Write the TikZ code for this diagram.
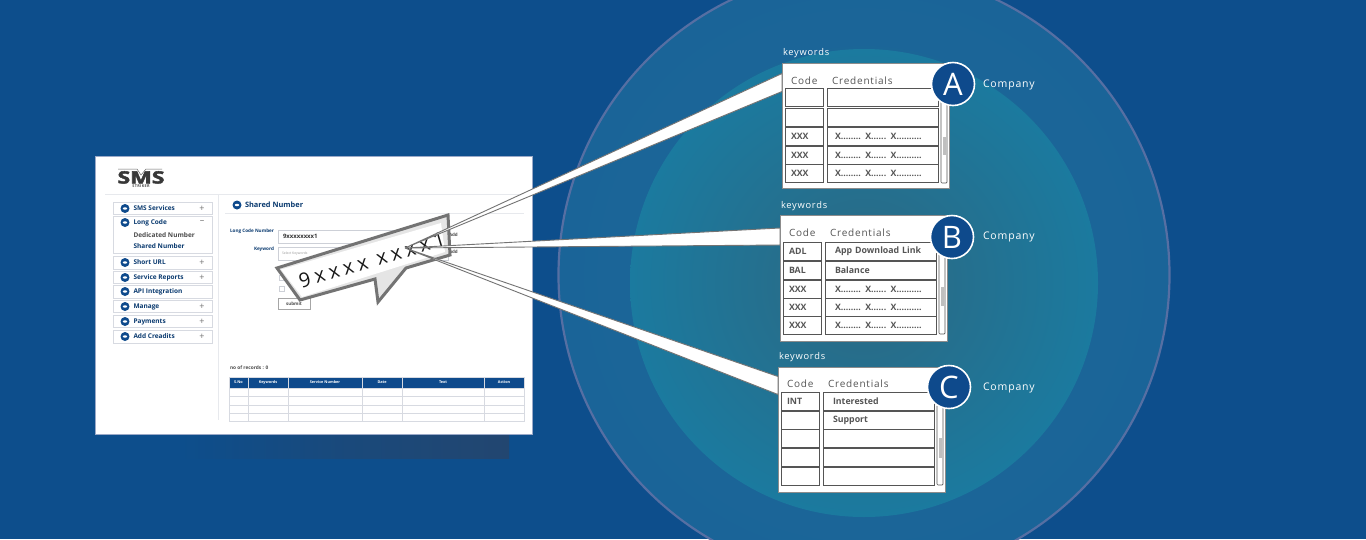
\documentclass[tikz,border=0pt]{standalone}
\usepackage{fontspec}
\setmainfont{Open Sans}
\newfontfamily\spacedfont[LetterSpace=8]{Open Sans}
\newfontfamily\bubblefont[LetterSpace=22]{Open Sans}
\newfontfamily\logofont[FakeBold=2.5]{Open Sans}
\usetikzlibrary{positioning}
\definecolor{page-blue}{RGB}{13,78,140}
\definecolor{ring-edge}{RGB}{86,111,163}
\definecolor{ring-out}{RGB}{26,100,152}
\definecolor{ring-in}{RGB}{30,106,150}
\definecolor{disc-out}{RGB}{27,122,159}
\definecolor{disc-in}{RGB}{44,104,130}
\definecolor{sms-blue}{RGB}{14,74,140}
\definecolor{cell-gray}{RGB}{85,85,85}
\definecolor{form-line}{RGB}{205,208,215}
\definecolor{menu-line}{RGB}{215,218,225}
\definecolor{shadow-blue}{RGB}{34,70,112}
\newcommand{\xline}{X........ X...... X..........}

\begin{document}
\begin{tikzpicture}[
  x=1pt, y=-1pt,
  every node/.style = {inner sep=0pt, outer sep=0pt},
  % Screen styles
  screenbox/.style = {draw=ring-edge!60, fill=white, line width=0.8pt, anchor=north west,
                      minimum width=437pt, minimum height=278pt},
  menubox/.style   = {draw=menu-line, fill=white, line width=0.9pt, anchor=north west,
                      minimum width=99pt},
  menutext/.style  = {anchor=west, text=sms-blue!80!black,
                      font=\fontsize{6.5}{8}\selectfont\bfseries},
  signtext/.style  = {text=black!55, font=\fontsize{9}{9}\selectfont},
  icondot/.style   = {circle, fill=sms-blue, minimum size=9pt,
                      path picture={\fill[white] (path picture bounding box.center)
                        ellipse (2.2pt and 1.2pt);}},
  formbox/.style   = {draw=form-line, line width=0.8pt, anchor=north west},
  headcell/.style  = {fill=sms-blue, draw=menu-line, line width=0.5pt, anchor=north west,
                      minimum height=11pt, text=white,
                      font=\fontsize{3.8}{5}\selectfont\bfseries},
  gridcell/.style  = {draw=menu-line, line width=0.5pt, anchor=north west},
  % Panel styles
  codecell/.style  = {draw=cell-gray, line width=1pt, anchor=north west, align=left,
                      text width=26pt, inner xsep=6pt, minimum height=18pt,
                      text=cell-gray, font=\fontsize{8.8}{10}\selectfont\bfseries},
  credcell/.style  = {draw=cell-gray, line width=1pt, anchor=north west, align=left,
                      text width=95pt, inner xsep=8pt, minimum height=18pt,
                      text=cell-gray, font=\fontsize{8.8}{10}\selectfont\bfseries},
  widecell/.style  = {credcell, text width=91pt, inner xsep=10pt},
  panelbox/.style  = {anchor=north west, minimum width=167pt, minimum height=125pt},
  panelline/.style = {draw=black!45, fill=white, line width=1pt},
  headtext/.style  = {text=cell-gray, anchor=west, font=\spacedfont\fontsize{10}{12}\selectfont},
  titletext/.style = {text=white, anchor=west, font=\spacedfont\fontsize{9.3}{11}\selectfont},
  companytext/.style = {text=white, anchor=west, font=\spacedfont\fontsize{10.5}{12}\selectfont},
  badge/.style     = {circle, draw=white, fill=sms-blue, line width=1.6pt, minimum size=43pt,
                      text=white, font=\fontsize{31}{31}\selectfont},
  wedge/.style     = {draw=black!55, fill=white, line width=0.9pt, line join=miter},
]

\useasboundingbox (0,0) rectangle (1366,539);
\clip (0,0) rectangle (1366,539);

% Background
\fill[page-blue] (0,0) rectangle (1366,539);
\node[circle, draw=ring-edge, line width=2.2pt, inner color=ring-in, outer color=ring-out,
      minimum size=611pt] (ring) at (864,275) {};
\node[circle, inner color=disc-in, outer color=disc-out, minimum size=468pt] (disc) at (864,283) {};

% Screenshot
\shade[left color=page-blue, right color=shadow-blue, middle color=shadow-blue!60!page-blue]
  (180,435) rectangle (509,458);
\node[screenbox] (screen) at (95.5,156.5) {};
\draw[menu-line!60, line width=0.8pt] (105,194) -- (524,194);
\draw[menu-line!60, line width=0.8pt] (218,194) -- (218,420);
\draw[menu-line!60, line width=0.8pt] (225,213) -- (524,213);

% Logo
\node[text=black!78, xscale=1.35, text height=12pt, text depth=0pt,
      font=\logofont\fontsize{17}{17}\selectfont\bfseries] (logo) at (141,177.5) {SMS};
\node[below=1.5pt of logo, text=black!70, font=\spacedfont\fontsize{3.8}{4}\selectfont\bfseries] (striker) {STRIKER};
\draw[black!60, line width=0.5pt] (118,169) -- (137,169) -- (141,175) -- (146,169) -- (162,169);

% Menu
\foreach \rowid/\rowtop/\rowh/\rowtext/\rowsign in {
    serv/202/12/SMS Services/+, long/216/37/Long Code/--, url/256/13/Short URL/+,
    rep/271/12/Service Reports/+, api/285/13/API Integration/, man/300/12/Manage/+,
    pay/315/12/Payments/+, add/330/13/Add Creadits/+} {
  \node[menubox, minimum height=\rowh pt] (menu\rowid) at (113,\rowtop) {};
  \node[icondot] (dot\rowid) at (125,\rowtop+6.5) {};
  \node[menutext] (text\rowid) at (133.5,\rowtop+6.5) {\rowtext};
  \node[signtext] (sign\rowid) at (202,\rowtop+6.5) {\rowsign};
}
\node[menutext, text=black!70] (dedicated) at (133.5,235.5) {Dedicated Number};
\node[menutext] (shared) at (133.5,246.5) {Shared Number};

% Form
\node[icondot] (doth) at (237,205) {};
\node[menutext, anchor=west, font=\fontsize{7.4}{9}\selectfont\bfseries] (heading) at (245,205) {Shared Number};
\node[menutext, anchor=east, font=\fontsize{4.6}{6}\selectfont\bfseries] (lblnumber) at (274,231) {Long Code Number};
\node[menutext, anchor=east, font=\fontsize{4.6}{6}\selectfont\bfseries] (lblkeyword) at (274,249) {Keyword};
\node[formbox, minimum width=170pt, minimum height=13pt] (inpnumber) at (278,230) {};
\node[anchor=west, text=black!80, font=\fontsize{6}{8}\selectfont\bfseries] at (283,236.5) {9xxxxxxxx1};
\node[formbox, minimum width=170pt, minimum height=13pt] (inpkeyword) at (278,247) {};
\node[anchor=west, text=black!40, font=\fontsize{3.4}{4}\selectfont] at (282,253.5) {Select Keywords};
\node[anchor=west, text=black!70, font=\fontsize{4.5}{6}\selectfont\bfseries] at (449,235) {Add};
\node[anchor=west, text=black!70, font=\fontsize{4.5}{6}\selectfont\bfseries] at (449,252) {Add};
\node[formbox, minimum size=5pt] (chka) at (279,275) {};
\node[formbox, minimum size=5pt] (chkb) at (279,286) {};
\node[formbox, draw=black!35, minimum width=32pt, minimum height=11pt,
      text=black!70, font=\fontsize{4.5}{6}\selectfont\bfseries] (submit) at (278,298) {submit};

% Records table
\node[anchor=west, text=black!70, font=\fontsize{4.8}{6}\selectfont\bfseries] (records) at (230,368) {no of records : 0};
\foreach \colid/\colx/\colw/\coltext in {
    sno/229/19/S.No, key/248/40/Keywords, num/288/74/Service Number,
    date/362/40/Date, txt/402/82/Text, act/484/40/Action} {
  \node[headcell, minimum width=\colw pt] (head\colid) at (\colx,377) {\coltext};
  \foreach \rowy/\rowh in {388/8, 396/9, 405/8, 413/8}
    \node[gridcell, minimum width=\colw pt, minimum height=\rowh pt] at (\colx,\rowy) {};
}

% Speech bubble
\draw[draw=black!55, fill=black!10, line width=3pt, line join=miter]
  (277,268) -- (448,215) -- (450,255) -- (406,268) -- (378,302) -- (375,279) -- (300,300) -- cycle;
\fill[white] (281,269.5) -- (441,223) -- (445,252) -- (302,297) -- cycle;
\node[rotate=16.5, text=black!90, font=\bubblefont\fontsize{20}{24}\selectfont] (number) at (372,260) {9xxxx xxxx1};
\coordinate (hub) at (405,248);

% Panel frames first, the wedges end under them
\node[panelbox] (panela) at (782,63) {};
\node[panelbox, minimum height=126pt] (panelb) at (780,215) {};
\node[panelbox] (panelc) at (778,367) {};

% Wedges
\draw[wedge] (hub) -- ([yshift=52pt]panela.west) -- ([yshift=34pt]panela.west) -- cycle;
\draw[wedge] (hub) -- ([yshift=50pt]panelb.west) -- ([yshift=33pt]panelb.west) -- cycle;
\draw[wedge] (hub) -- ([yshift=53pt]panelc.west) -- ([yshift=35pt]panelc.west) -- cycle;

% Panel A
\draw[panelline] (panela.north west) rectangle (panela.south east);
\node[titletext] (keya) at (783,53.5) {keywords};
\node[headtext] (codea) at (791,80.5) {Code};
\node[headtext] (creda) at (832,80.5) {Credentials};
\foreach \n/\rowy/\cellcode/\cellcred in {
    1/88//, 2/108//, 3/127/XXX/\xline, 4/146/XXX/\xline, 5/164/XXX/\xline} {
  \node[codecell] (codea\n) at (785,\rowy) {\cellcode};
  \node[credcell] (creda\n) at (827,\rowy) {\cellcred};
}
\draw[cell-gray, line width=0.7pt, rounded corners=1pt] (941,100) rectangle (947,183);
\fill[black!25] (942.5,137) rectangle (945.5,155);
\node[badge] (badgea) at (953,84) {A};
\node[companytext] (compa) at (983,85) {Company};

% Panel B
\draw[panelline] (panelb.north west) rectangle (panelb.south east);
\node[titletext] (keyb) at (781,206.5) {keywords};
\node[headtext] (codeb) at (789,232.5) {Code};
\node[headtext] (credb) at (830,232.5) {Credentials};
\foreach \n/\rowy/\cellcode/\cellcred in {
    1/242/ADL/App Download Link, 2/261/BAL/Balance, 3/280/XXX/\xline,
    4/298/XXX/\xline, 5/316/XXX/\xline} {
  \node[codecell] (codeb\n) at (783,\rowy) {\cellcode};
  \node[widecell] (credb\n) at (825,\rowy) {\cellcred};
}
\draw[cell-gray, line width=0.7pt, rounded corners=1pt] (939,254) rectangle (945,334);
\fill[black!25] (940.5,287) rectangle (943.5,306);
\node[badge] (badgeb) at (952,237) {B};
\node[companytext] (compb) at (983,237) {Company};

% Panel C
\draw[panelline] (panelc.north west) rectangle (panelc.south east);
\node[titletext] (keyc) at (779,357.5) {keywords};
\node[headtext] (codec) at (787,383.5) {Code};
\node[headtext] (credc) at (828,383.5) {Credentials};
\foreach \n/\rowy/\cellcode/\cellcred in {
    1/392/INT/Interested, 2/411//Support, 3/429//, 4/448//, 5/467//} {
  \node[codecell] (codec\n) at (781,\rowy) {\cellcode};
  \node[widecell] (credc\n) at (823,\rowy) {\cellcred};
}
\draw[cell-gray, line width=0.7pt, rounded corners=1pt] (937,405) rectangle (943,485);
\fill[black!25] (938.5,438) rectangle (941.5,458);
\node[badge] (badgec) at (949,387) {C};
\node[companytext] (compc) at (983,388) {Company};

\end{tikzpicture}
\end{document}
